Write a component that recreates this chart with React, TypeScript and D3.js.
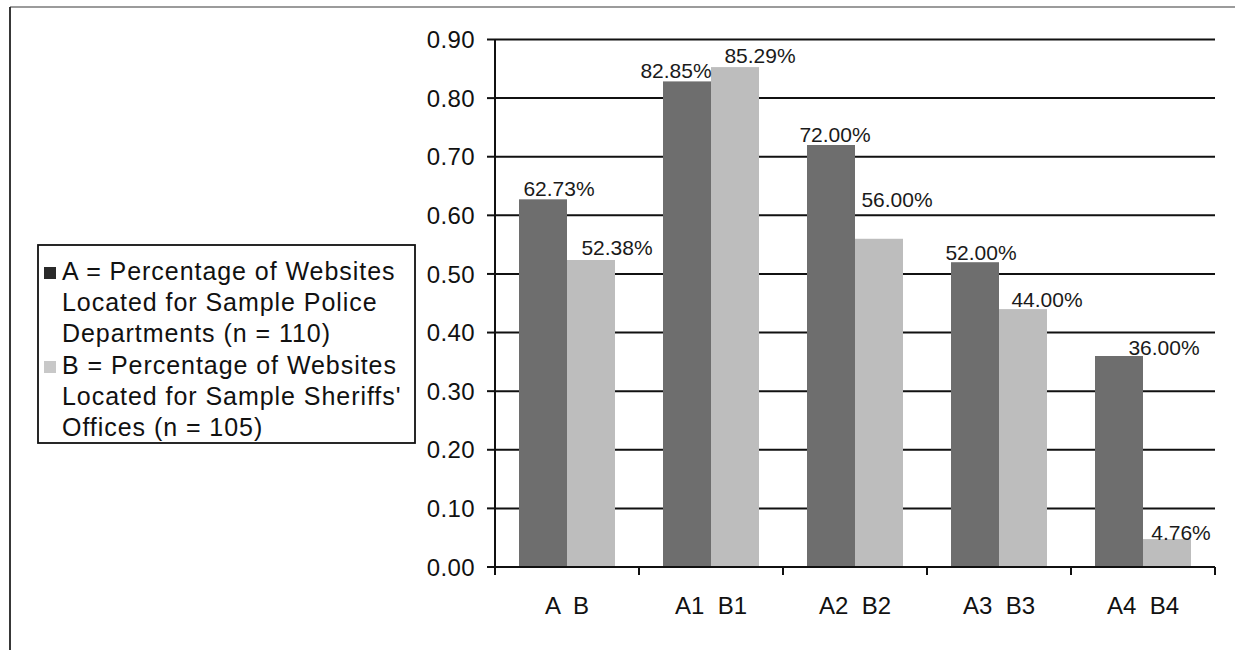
import React from "react";
import * as d3 from "d3";

// Category labels along the x axis (paired groups)
const categories: string[] = ["A  B", "A1  B1", "A2  B2", "A3  B3", "A4  B4"];
const seriesKeys: string[] = ["A", "B"];
// Series A: police departments; Series B: sheriffs' offices
const seriesA: number[] = [0.6273, 0.8285, 0.72, 0.52, 0.36];
const seriesB: number[] = [0.5238, 0.8529, 0.56, 0.44, 0.0476];
const legendA: string[] = [
  "A = Percentage of Websites",
  "Located for Sample Police",
  "Departments (n = 110)",
];
const legendB: string[] = [
  "B = Percentage of Websites",
  "Located for Sample Sheriffs'",
  "Offices (n = 105)",
];

// Manual nudges for the data labels (dx, dy in px relative to bar top centre)
const labelNudgeA: [number, number][] = [[16, -3], [-11, -3], [4, -3], [6, -2], [45, -1]];
const labelNudgeB: [number, number][] = [[26, -5], [25, -4], [18, -32], [24, -2], [14, 1]];

const W = 1235;
const H = 650;
const plot = { left: 495, right: 1215, top: 39.5, bottom: 567 };
const FONT = "'Liberation Sans', Arial, Helvetica, sans-serif";
const colorA = "#6e6e6e";
const colorB = "#bdbdbd";

export default function App() {
  const x0 = d3.scaleBand<string>().domain(categories).range([plot.left, plot.right]).padding(0);
  const x1 = d3
    .scaleBand<string>()
    .domain(seriesKeys)
    .range([0, x0.bandwidth()])
    .paddingInner(0)
    .paddingOuter(0.5);
  const y = d3.scaleLinear().domain([0, 0.9]).range([plot.bottom, plot.top]);
  const yTicks = d3.range(0, 10).map((i) => i / 10);
  const fmtTick = d3.format(".2f");
  const fmtPct = d3.format(".2%");

  const series = [
    { key: "A", values: seriesA, color: colorA, nudge: labelNudgeA },
    { key: "B", values: seriesB, color: colorB, nudge: labelNudgeB },
  ];

  const boundaries = categories.map((c) => x0(c) as number).concat([plot.right]);

  return (
    <svg
      width={W}
      height={H}
      style={{ position: "absolute", left: 0, top: 0, background: "#fff" }}
      fontFamily={FONT}
    >
      <rect x={0} y={0} width={W} height={H} fill="#fff" />
      {/* outer frame */}
      <line x1={10} y1={7} x2={W} y2={7} stroke="#7a7a7a" strokeWidth={1.5} />
      <line x1={10} y1={7} x2={10} y2={H} stroke="#222" strokeWidth={1.8} />

      {/* gridlines */}
      {yTicks.map((t) =>
        t === 0 ? null : (
          <line key={"g" + t} x1={plot.left} x2={plot.right} y1={y(t)} y2={y(t)} stroke="#111" strokeWidth={2} />
        )
      )}

      {/* bars */}
      {series.map((s) =>
        categories.map((c, i) => {
          const bx = (x0(c) as number) + (x1(s.key) as number);
          return (
            <rect
              key={s.key + c}
              x={bx}
              y={y(s.values[i])}
              width={x1.bandwidth()}
              height={plot.bottom - y(s.values[i])}
              fill={s.color}
            />
          );
        })
      )}

      {/* axes */}
      <line x1={plot.left} x2={plot.left} y1={plot.top} y2={plot.bottom} stroke="#111" strokeWidth={2} />
      <line x1={plot.left} x2={plot.right} y1={plot.bottom} y2={plot.bottom} stroke="#111" strokeWidth={2.2} />
      {yTicks.map((t) => (
        <g key={"t" + t}>
          <line x1={plot.left - 8} x2={plot.left} y1={y(t)} y2={y(t)} stroke="#111" strokeWidth={2} />
          <text x={plot.left - 20} y={y(t)} dy="0.36em" textAnchor="end" fontSize={24} letterSpacing={0.4} fill="#111">
            {fmtTick(t)}
          </text>
        </g>
      ))}
      {boundaries.map((bx, i) => (
        <line key={"xt" + i} x1={bx} x2={bx} y1={plot.bottom} y2={plot.bottom + 8} stroke="#111" strokeWidth={2} />
      ))}
      {categories.map((c) => (
        <text
          key={"xl" + c}
          x={(x0(c) as number) + x0.bandwidth() / 2}
          y={614}
          textAnchor="middle"
          fontSize={24}
          fill="#111"
          style={{ whiteSpace: "pre" }}
        >
          {c}
        </text>
      ))}

      {/* data labels */}
      {series.map((s) =>
        categories.map((c, i) => {
          const cx = (x0(c) as number) + (x1(s.key) as number) + x1.bandwidth() / 2;
          const [dx, dy] = s.nudge[i];
          return (
            <text
              key={"l" + s.key + c}
              x={cx + dx}
              y={y(s.values[i]) + dy}
              textAnchor="middle"
              fontSize={21}
              fill="#1a1a1a"
            >
              {fmtPct(s.values[i])}
            </text>
          );
        })
      )}

      {/* legend */}
      <rect x={38} y={245} width={377} height={198} fill="#fff" stroke="#111" strokeWidth={1.8} />
      <rect x={44} y={267} width={12} height={12} fill="#2a2a2a" />
      <rect x={44} y={361} width={12} height={12} fill="#c8c8c8" />
      {legendA.concat(legendB).map((line, i) => (
        <text key={"lg" + i} x={62} y={280 + i * 31.2} fontSize={25} letterSpacing={0.95} fill="#111">
          {line}
        </text>
      ))}
    </svg>
  );
}
